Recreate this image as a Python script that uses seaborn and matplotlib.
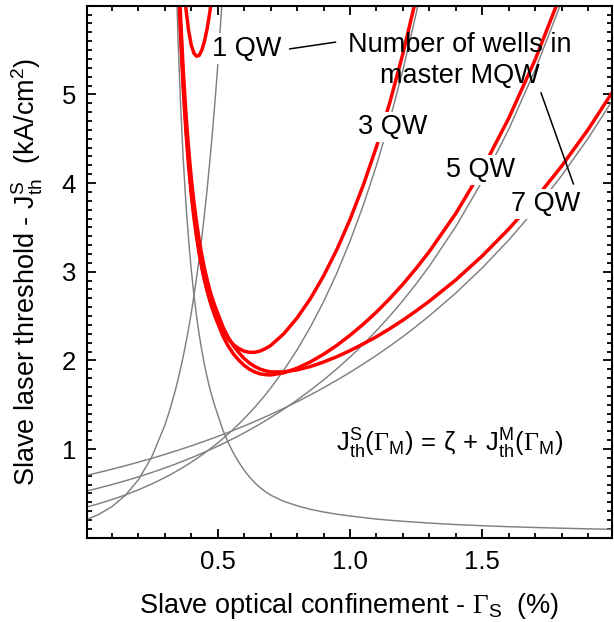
import numpy as np
import pandas as pd
import matplotlib
matplotlib.use("Agg")
import matplotlib.pyplot as plt
import seaborn as sns
from matplotlib.ticker import MultipleLocator

nan = float("nan")

# Slave optical confinement Gamma_S (%)
GAMMA_S = [0.00, 0.05, 0.10, 0.15, 0.20, 0.25, 0.30,
           0.32, 0.34,
           0.35, 0.36, 0.37, 0.38, 0.39, 0.40, 0.41, 0.42, 0.43, 0.44, 0.45, 0.46, 0.47, 0.48, 0.49, 0.50,
           0.52, 0.54, 0.56, 0.58, 0.60, 0.62, 0.64, 0.66, 0.68, 0.70,
           0.75, 0.80, 0.85, 0.90, 0.95, 1.00,
           1.05, 1.10, 1.15, 1.20, 1.25, 1.30,
           1.40, 1.50, 1.60, 1.70, 1.80, 1.90, 2.00]

# zeta (gray decreasing curve), kA/cm^2
ZETA = [nan, nan, nan, nan, nan, nan, nan,
        nan, 6.63,
        5.63, 4.86, 4.25, 3.76, 3.36, 3.02, 2.74, 2.50, 2.29, 2.11, 1.95, 1.81, 1.685, 1.575, 1.477, 1.388,
        1.21, 1.07, 0.95, 0.85, 0.76, 0.685, 0.62, 0.565, 0.52, 0.48,
        0.41, 0.36, 0.32, 0.29, 0.265, 0.245,
        0.227, 0.21, 0.197, 0.185, 0.175, 0.165,
        0.148, 0.135, 0.124, 0.115, 0.107, 0.100, 0.094]

# master threshold J_th^M for 1, 3, 5, 7 wells (gray increasing curves)
J_1QW = [0.200, 0.262, 0.350, 0.475, 0.653, 0.906, 1.267,
         1.452, 1.665,
         1.784, 1.912, 2.050, 2.200, 2.360, 2.535, 2.725, 2.930, 3.150, 3.390, 3.650, 3.930, 4.240, 4.570, 4.930, 5.320,
         6.210, 7.270, nan, nan, nan, nan, nan, nan, nan, nan,
         nan, nan, nan, nan, nan, nan,
         nan, nan, nan, nan, nan, nan,
         nan, nan, nan, nan, nan, nan, nan]
J_3QW = [0.342, 0.383, 0.430, 0.481, 0.540, 0.605, 0.678,
         0.709, 0.743,
         0.760, 0.777, 0.795, 0.813, 0.832, 0.851, 0.871, 0.891, 0.912, 0.933, 0.954, 0.976, 0.999, 1.022, 1.045, 1.069,
         1.119, 1.171, 1.226, 1.283, 1.343, 1.406, 1.471, 1.540, 1.612, 1.687,
         1.891, 2.119, 2.375, 2.662, 2.983, 3.344,
         3.748, 4.200, 4.707, 5.276, 5.913, 6.627,
         8.32, nan, nan, nan, nan, nan, nan]
J_5QW = [0.523, 0.560, 0.599, 0.641, 0.686, 0.735, 0.786,
         0.808, 0.830,
         0.842, 0.853, 0.865, 0.877, 0.889, 0.901, 0.913, 0.926, 0.939, 0.951, 0.964, 0.978, 0.991, 1.005, 1.018, 1.032,
         1.061, 1.090, 1.120, 1.151, 1.183, 1.215, 1.249, 1.283, 1.319, 1.355,
         1.450, 1.552, 1.662, 1.779, 1.904, 2.038,
         2.181, 2.335, 2.499, 2.675, 2.863, 3.064,
         3.510, 4.022, 4.608, 5.279, 6.048, 6.930, 7.940]
J_7QW = [0.700, 0.735, 0.772, 0.811, 0.852, 0.894, 0.939,
         0.958, 0.977,
         0.986, 0.996, 1.006, 1.016, 1.026, 1.036, 1.046, 1.056, 1.067, 1.077, 1.088, 1.099, 1.109, 1.120, 1.131, 1.143,
         1.165, 1.188, 1.212, 1.236, 1.260, 1.285, 1.311, 1.337, 1.363, 1.390,
         1.460, 1.533, 1.610, 1.691, 1.776, 1.865,
         1.959, 2.057, 2.160, 2.269, 2.383, 2.503,
         2.760, 3.044, 3.358, 3.704, 4.085, 4.505, 4.970]

WELL_LABELS = ["1 QW", "3 QW", "5 QW", "7 QW"]
X_TICKS = [0.5, 1.0, 1.5]
X_TICK_LABELS = ["0.5", "1.0", "1.5"]
Y_TICKS = [1, 2, 3, 4, 5]
Y_TICK_LABELS = ["1", "2", "3", "4", "5"]

# ---------------------------------------------------------------------------
sns.set_theme(style="ticks")
plt.rcParams.update({
    "font.family": ["Liberation Sans", "DejaVu Sans"],
    "mathtext.fontset": "custom",
    "mathtext.rm": "Liberation Serif",
    "mathtext.sf": "Liberation Sans",
    "mathtext.it": "Liberation Sans:italic",
    "mathtext.bf": "Liberation Sans:bold",
    "mathtext.default": "sf",
    "axes.edgecolor": "black",
    "axes.linewidth": 1.5,
    "xtick.color": "black",
    "ytick.color": "black",
    "text.color": "black",
    "axes.labelcolor": "black",
})

x = np.array(GAMMA_S)
zeta = np.array(ZETA)
masters = [np.array(J_1QW), np.array(J_3QW), np.array(J_5QW), np.array(J_7QW)]

gray_rows = []
for lab, jm in zip(WELL_LABELS, masters):
    gray_rows.append(pd.DataFrame({"Gamma": x, "J": jm, "curve": "JM " + lab}))
gray_rows.append(pd.DataFrame({"Gamma": x, "J": zeta, "curve": "zeta"}))
gray_df = pd.concat(gray_rows, ignore_index=True).dropna()

red_rows = []
for lab, jm in zip(WELL_LABELS, masters):
    red_rows.append(pd.DataFrame({"Gamma": x, "J": zeta + jm, "curve": "JS " + lab}))
red_df = pd.concat(red_rows, ignore_index=True).dropna()

fig = plt.figure(figsize=(6.14, 6.22), dpi=100)
ax = fig.add_axes([87 / 614, 1 - 537.7 / 622, 525 / 614, 532 / 622])

sns.lineplot(data=gray_df, x="Gamma", y="J", units="curve", estimator=None,
             color="#808080", lw=1.05, sort=False, ax=ax, legend=False)
sns.lineplot(data=red_df, x="Gamma", y="J", units="curve", estimator=None,
             color="#ff0000", lw=2.5, sort=False, ax=ax, legend=False)

ax.set_xlim(0.006, 1.99)
ax.set_ylim(0.0, 6.0)

ax.set_xticks(X_TICKS)
ax.set_xticklabels(X_TICK_LABELS)
ax.set_yticks(Y_TICKS)
ax.set_yticklabels(Y_TICK_LABELS)
ax.xaxis.set_minor_locator(MultipleLocator(0.1))
ax.yaxis.set_minor_locator(MultipleLocator(0.1))
ax.tick_params(which="both", direction="in", top=True, right=True,
               width=1.3, labelsize=18.5)
ax.tick_params(which="major", length=6.5)
ax.tick_params(which="minor", length=3.8)
ax.tick_params(axis="x", which="major", pad=9)
ax.tick_params(axis="y", which="major", pad=8)
for s in ax.spines.values():
    s.set_visible(True)
    s.set_linewidth(1.5)

ax.set_xlabel(r"Slave optical confinement - $\mathrm{\Gamma}_{S}$  (%)",
              fontsize=19.5, labelpad=12)
ax.set_ylabel(r"Slave laser threshold - $J^{S}_{th}$  (kA/cm$^{2}$)",
              fontsize=19.5, labelpad=12)

box = dict(facecolor="white", edgecolor="none", pad=1.5)
fs = 19.5
ax.text(0.609, 5.517, "1 QW", ha="center", va="center", fontsize=fs, bbox=box, zorder=6)
ax.text(1.161, 4.632, "3 QW", ha="center", va="center", fontsize=fs, bbox=box, zorder=6)
ax.text(1.495, 4.147, "5 QW", ha="center", va="center", fontsize=fs, bbox=box, zorder=6)
ax.text(1.739, 3.764, "7 QW", ha="center", va="center", fontsize=fs, bbox=box, zorder=6)
ax.text(1.416, 5.386, "Number of wells in\nmaster MQW", ha="center", va="center",
        fontsize=fs, linespacing=1.25, zorder=6)
ax.annotate("", xy=(0.956, 5.594), xytext=(0.761, 5.508),
            arrowprops=dict(arrowstyle="-", color="black", lw=1.1), zorder=7)
ax.annotate("", xy=(1.848, 3.958), xytext=(1.718, 5.049),
            arrowprops=dict(arrowstyle="-", color="black", lw=1.1), zorder=7)

ax.text(1.375, 1.062,
        r"$J^{S}_{th}(\mathrm{\Gamma}_{M})\,=\,\zeta\,+\,J^{M}_{th}(\mathrm{\Gamma}_{M})$",
        ha="center", va="center", fontsize=18.5)

fig.savefig("out.png", dpi=100)
